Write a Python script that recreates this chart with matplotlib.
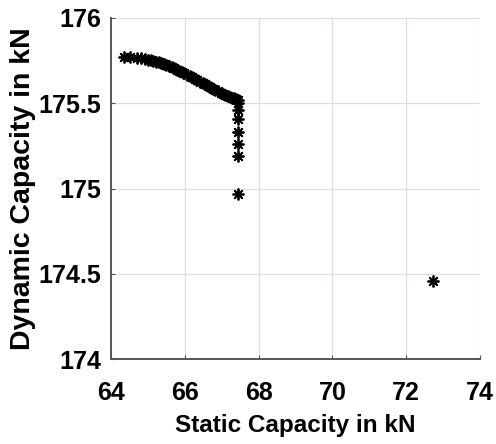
import matplotlib.pyplot as plt
from matplotlib import rcParams

rcParams['font.family'] = 'Liberation Sans'
rcParams['font.weight'] = 'bold'

# Pareto-like front (static vs dynamic capacity, kN)
static_cap = [64.35, 64.51, 64.70, 64.82, 64.92, 65.00, 65.08, 65.15, 65.22, 65.29,
              65.36, 65.43, 65.50, 65.57, 65.64, 65.71, 65.78, 65.85, 65.92, 65.99,
              66.06, 66.13, 66.20, 66.27, 66.34, 66.41, 66.48, 66.55, 66.62, 66.69,
              66.76, 66.83, 66.90, 66.97, 67.04, 67.10, 67.16, 67.22, 67.27, 67.32,
              67.36, 67.40, 67.43,
              67.44, 67.44, 67.44, 67.44, 67.44, 67.44, 67.44,
              72.73]
dynamic_cap = [175.770, 175.770, 175.766, 175.763, 175.760, 175.756, 175.752, 175.748, 175.744, 175.740,
               175.735, 175.729, 175.723, 175.717, 175.711, 175.704, 175.697, 175.690, 175.683, 175.675,
               175.668, 175.660, 175.652, 175.644, 175.636, 175.627, 175.618, 175.610, 175.601, 175.593,
               175.585, 175.577, 175.570, 175.562, 175.555, 175.548, 175.542, 175.537, 175.532, 175.528,
               175.525, 175.522, 175.520,
               175.50, 175.46, 175.41, 175.33, 175.26, 175.19, 174.97,
               174.46]

x_ticks = [64, 66, 68, 70, 72, 74]
y_ticks = [174, 174.5, 175, 175.5, 176]
y_ticklabels = ['174', '174.5', '175', '175.5', '176']

fig = plt.figure(figsize=(4.96, 4.44), dpi=100)
ax = fig.add_axes([0.2238, 0.1914, 0.7439, 0.7681])

ax.plot(static_cap, dynamic_cap, linestyle='None', marker=(8, 2, 0),
        markersize=8.5, markeredgewidth=1.3, color='black')

ax.set_xlim(64, 74)
ax.set_ylim(174, 176)
ax.set_xticks(x_ticks)
ax.set_yticks(y_ticks)
ax.set_yticklabels(y_ticklabels)

ax.grid(True, color='#d8e0d8', linewidth=0.9)
ax.set_axisbelow(True)
for s in ['top', 'right']:
    ax.spines[s].set_visible(False)
for s in ['left', 'bottom']:
    ax.spines[s].set_color('#555555')
    ax.spines[s].set_linewidth(1.4)

ax.tick_params(axis='both', direction='in', length=3, color='#555555', labelsize=18)
ax.tick_params(axis='x', pad=16)
ax.tick_params(axis='y', pad=7)

ax.set_xlabel('Static Capacity in kN', fontsize=17.5, fontweight='bold', labelpad=6)
ax.set_ylabel('Dynamic Capacity in kN', fontsize=20.5, fontweight='bold', labelpad=2)

fig.savefig('out.png', dpi=100)
